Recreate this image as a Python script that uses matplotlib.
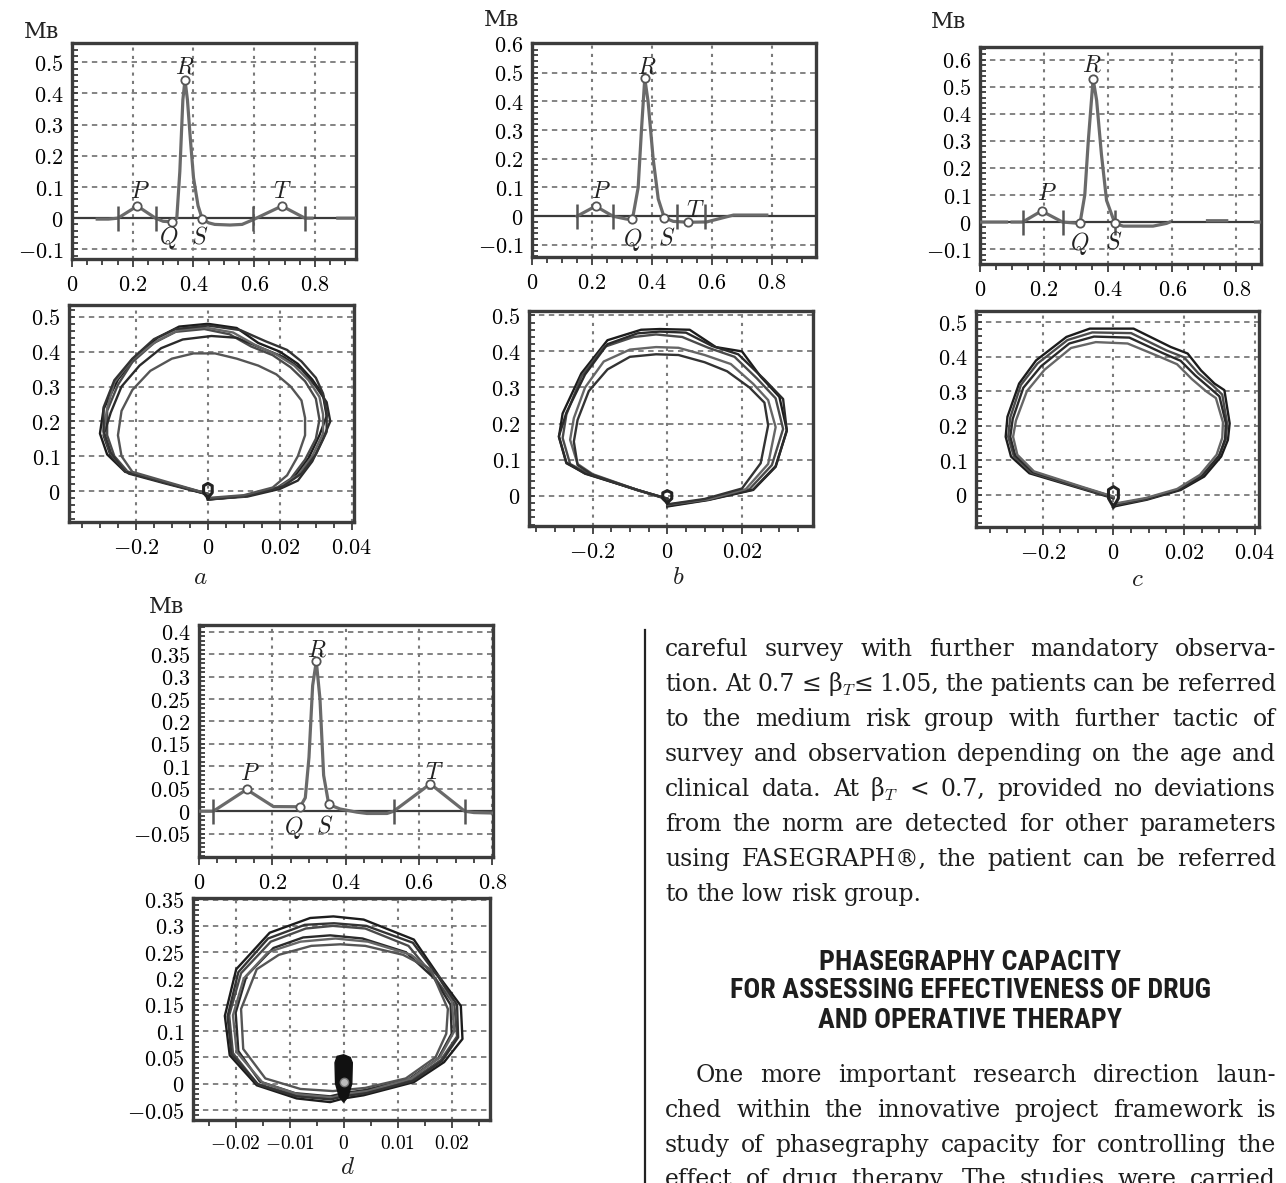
import matplotlib
matplotlib.use("Agg")
import matplotlib.pyplot as plt
from matplotlib import font_manager
from matplotlib.ticker import MultipleLocator
import numpy as np

plt.rcParams["mathtext.fontset"] = "cm"
plt.rcParams["font.family"] = ["DejaVu Serif"]

W, H = 1286, 1183
nan = np.nan

# ---------------- ECG traces (time s, voltage mV) ----------------
ecg_a_t = [0.083, 0.12, 0.151, 0.215, 0.275, 0.30, 0.33, 0.345, 0.355, 0.365, 0.372, 0.38, 0.39, 0.40,
           0.415, 0.429, 0.45, 0.47, 0.52, 0.56, 0.596, 0.691, 0.767, 0.79, nan, 0.875, 0.935]
ecg_a_v = [-0.003, -0.003, 0.0, 0.039, 0.0, -0.01, -0.012, 0.0, 0.15, 0.38, 0.444, 0.38, 0.25, 0.13,
           0.04, -0.003, -0.015, -0.02, -0.022, -0.02, -0.005, 0.039, 0.0, 0.0, nan, 0.0, 0.0]
ecg_a_pts_t = [0.215, 0.33, 0.372, 0.429, 0.691]
ecg_a_pts_v = [0.039, -0.012, 0.444, -0.003, 0.039]
ecg_a_bounds = [0.151, 0.275, 0.596, 0.767]

ecg_b_t = [0.15, 0.212, 0.27, 0.315, 0.335, 0.354, 0.365, 0.376, 0.387, 0.404, 0.421, 0.441, 0.471,
           0.521, 0.582, 0.638, 0.672, 0.783]
ecg_b_v = [0.0, 0.035, 0.0, -0.01, -0.01, 0.1, 0.3, 0.48, 0.4, 0.2, 0.06, -0.005, -0.018,
           -0.021, -0.02, -0.005, 0.004, 0.004]
ecg_b_pts_t = [0.212, 0.335, 0.376, 0.441, 0.521]
ecg_b_pts_v = [0.035, -0.01, 0.48, -0.005, -0.021]
ecg_b_bounds = [0.15, 0.27, 0.483, 0.578]

ecg_c_t = [0.0, 0.083, nan, 0.10, 0.133, 0.192, 0.258, 0.312, 0.327, 0.338, 0.353, 0.364, 0.379, 0.395,
           0.421, 0.447, 0.54, 0.582, 0.592, nan, 0.71, 0.77, nan, 0.86, 0.875]
ecg_c_v = [0.0, 0.0, nan, 0.0, 0.0, 0.041, 0.0, -0.005, 0.1, 0.3, 0.529, 0.45, 0.25, 0.08,
           -0.005, -0.015, -0.015, -0.005, 0.0, nan, 0.005, 0.005, nan, 0.0, 0.0]
ecg_c_pts_t = [0.192, 0.312, 0.353, 0.421]
ecg_c_pts_v = [0.041, -0.005, 0.529, -0.005]
ecg_c_bounds = [0.133, 0.258, 0.42]

ecg_d_t = [0.0, 0.039, 0.130, 0.203, 0.276, 0.290, 0.300, 0.310, 0.320, 0.330, 0.340, 0.354, 0.385,
           0.43, 0.458, 0.513, 0.531, 0.631, 0.725, 0.75, 0.8]
ecg_d_v = [0.0, 0.0, 0.0485, 0.0104, 0.01, 0.03, 0.12, 0.28, 0.334, 0.25, 0.08, 0.015, 0.005,
           -0.002, -0.005, -0.005, 0.0, 0.061, 0.0, -0.003, -0.004]
ecg_d_pts_t = [0.13, 0.276, 0.32, 0.354, 0.631]
ecg_d_pts_v = [0.0485, 0.01, 0.334, 0.015, 0.061]
ecg_d_bounds = [0.039, 0.531, 0.725]

# wave letters and where they sit (data coords)
wave_names_a = ["P", "Q", "R", "S", "T"]
wave_xy_a = [(0.223, 0.087), (0.319, -0.062), (0.372, 0.486), (0.421, -0.062), (0.693, 0.087)]
wave_names_b = ["P", "Q", "R", "S", "T"]
wave_xy_b = [(0.231, 0.087), (0.337, -0.08), (0.382, 0.52), (0.449, -0.075), (0.544, 0.02)]
wave_names_c = ["P", "Q", "R", "S"]
wave_xy_c = [(0.208, 0.104), (0.312, -0.078), (0.348, 0.579), (0.416, -0.075)]
wave_names_d = ["P", "Q", "R", "S", "T"]
wave_xy_d = [(0.139, 0.0836), (0.258, -0.036), (0.322, 0.36), (0.344, -0.032), (0.641, 0.087)]

# ---------------- phase portraits (dU/dt, U) ----------------
loops_a = [
    ([0.000, 0.010, 0.020, 0.024, 0.028, 0.031, 0.033, 0.032, 0.029, 0.025, 0.020, 0.014, 0.008, 0.000,
      -0.008, -0.014, -0.020, -0.025, -0.029, -0.030, -0.028, -0.023, -0.012, 0.000],
     [-0.025, -0.015, 0.010, 0.040, 0.095, 0.160, 0.215, 0.275, 0.320, 0.365, 0.400, 0.425, 0.468, 0.480,
      0.472, 0.440, 0.385, 0.320, 0.235, 0.165, 0.105, 0.055, 0.025, -0.010]),
    ([0.000, 0.010, 0.019, 0.023, 0.027, 0.030, 0.031, 0.030, 0.027, 0.023, 0.018, 0.012, 0.006, -0.001,
      -0.009, -0.015, -0.021, -0.025, -0.028, -0.028, -0.026, -0.022, -0.011, 0.000],
     [-0.022, -0.014, 0.008, 0.035, 0.090, 0.150, 0.205, 0.265, 0.315, 0.355, 0.390, 0.415, 0.450, 0.465,
      0.457, 0.425, 0.370, 0.305, 0.230, 0.160, 0.100, 0.052, 0.022, -0.008]),
    ([0.000, 0.011, 0.020, 0.025, 0.029, 0.032, 0.034, 0.033, 0.030, 0.026, 0.021, 0.015, 0.008, 0.001,
      -0.007, -0.013, -0.019, -0.024, -0.027, -0.029, -0.027, -0.022, -0.012, 0.000],
     [-0.024, -0.016, 0.006, 0.030, 0.085, 0.150, 0.200, 0.255, 0.300, 0.350, 0.385, 0.410, 0.440, 0.445,
      0.435, 0.410, 0.360, 0.300, 0.225, 0.160, 0.100, 0.050, 0.022, -0.010]),
    ([0.000, 0.010, 0.020, 0.025, 0.029, 0.032, 0.032, 0.031, 0.028, 0.024, 0.019, 0.013, 0.007, -0.001,
      -0.008, -0.014, -0.021, -0.026, -0.028, -0.029, -0.027, -0.023, -0.012, 0.000],
     [-0.023, -0.015, 0.012, 0.045, 0.100, 0.165, 0.220, 0.270, 0.318, 0.360, 0.392, 0.420, 0.455, 0.470,
      0.462, 0.432, 0.378, 0.312, 0.238, 0.168, 0.108, 0.058, 0.025, -0.008]),
    ([0.000, 0.011, 0.021, 0.026, 0.030, 0.033, 0.033, 0.032, 0.030, 0.026, 0.022, 0.016, 0.009, 0.000,
      -0.009, -0.015, -0.021, -0.026, -0.029, -0.029, -0.027, -0.023, -0.012, 0.000],
     [-0.024, -0.014, 0.014, 0.050, 0.105, 0.170, 0.225, 0.280, 0.325, 0.372, 0.405, 0.430, 0.462, 0.475,
      0.465, 0.436, 0.380, 0.318, 0.240, 0.172, 0.110, 0.056, 0.024, -0.009]),
    ([0.000, 0.010, 0.018, 0.022, 0.025, 0.027, 0.027, 0.026, 0.023, 0.019, 0.014, 0.008, 0.002, -0.004,
      -0.010, -0.016, -0.021, -0.024, -0.025, -0.024, -0.021, -0.011, 0.000],
     [-0.020, -0.012, 0.010, 0.045, 0.100, 0.160, 0.210, 0.260, 0.300, 0.335, 0.360, 0.380, 0.395, 0.395,
      0.380, 0.345, 0.290, 0.230, 0.160, 0.100, 0.055, 0.025, -0.008]),
]
knot_a = ([0.0, 0.0012, 0.0012, 0.0, -0.0012, -0.0012, 0.0], [-0.02, -0.005, 0.015, 0.022, 0.015, -0.005, -0.02])

loops_b = [
    ([0.000, 0.011, 0.023, 0.029, 0.032, 0.030, 0.025, 0.020, 0.013, 0.006, -0.002, -0.007, -0.016, -0.023,
      -0.028, -0.029, -0.027, -0.022, -0.008, 0.000],
     [-0.030, -0.012, 0.016, 0.080, 0.182, 0.274, 0.330, 0.400, 0.412, 0.460, 0.462, 0.460, 0.431, 0.339,
      0.228, 0.163, 0.090, 0.062, 0.016, -0.010]),
    ([0.000, 0.011, 0.022, 0.028, 0.031, 0.029, 0.024, 0.018, 0.011, 0.004, -0.003, -0.009, -0.017, -0.023,
      -0.027, -0.028, -0.026, -0.021, -0.008, 0.000],
     [-0.026, -0.010, 0.018, 0.085, 0.185, 0.270, 0.325, 0.385, 0.410, 0.440, 0.447, 0.440, 0.412, 0.330,
      0.225, 0.160, 0.088, 0.060, 0.015, -0.008]),
    ([0.000, 0.011, 0.023, 0.029, 0.032, 0.031, 0.026, 0.019, 0.012, 0.005, -0.002, -0.008, -0.016, -0.022,
      -0.027, -0.029, -0.027, -0.022, -0.008, 0.000],
     [-0.028, -0.011, 0.017, 0.082, 0.180, 0.268, 0.322, 0.392, 0.415, 0.452, 0.455, 0.450, 0.420, 0.336,
      0.230, 0.165, 0.092, 0.061, 0.016, -0.009]),
    ([0.000, 0.011, 0.021, 0.027, 0.029, 0.027, 0.023, 0.017, 0.010, 0.003, -0.003, -0.010, -0.017, -0.022,
      -0.025, -0.026, -0.024, -0.020, -0.008, 0.000],
     [-0.025, -0.010, 0.018, 0.088, 0.190, 0.265, 0.310, 0.365, 0.390, 0.410, 0.412, 0.405, 0.372, 0.300,
      0.215, 0.155, 0.088, 0.060, 0.016, -0.008]),
    ([0.000, 0.010, 0.020, 0.025, 0.027, 0.026, 0.022, 0.016, 0.010, 0.003, -0.003, -0.010, -0.016, -0.021,
      -0.024, -0.025, -0.024, -0.020, -0.008, 0.000],
     [-0.024, -0.009, 0.020, 0.090, 0.195, 0.258, 0.300, 0.345, 0.370, 0.390, 0.392, 0.385, 0.350, 0.290,
      0.210, 0.150, 0.085, 0.058, 0.016, -0.008]),
]
knot_b = ([0.0, 0.0012, 0.0012, 0.0, -0.0012, -0.0012, 0.0], [-0.02, -0.008, 0.008, 0.014, 0.008, -0.008, -0.02])

loops_c = [
    ([0.000, 0.0095, 0.019, 0.0257, 0.0305, 0.0324, 0.0329, 0.0314, 0.0286, 0.0248, 0.021, 0.0162, 0.0057,
      -0.0067, -0.0133, -0.0219, -0.0267, -0.0300, -0.0305, -0.0290, -0.0238, -0.0095, 0.000],
     [-0.034, -0.014, 0.014, 0.053, 0.111, 0.159, 0.207, 0.303, 0.322, 0.360, 0.409, 0.428, 0.481,
      0.481, 0.457, 0.389, 0.322, 0.226, 0.168, 0.111, 0.0625, 0.019, -0.010]),
    ([0.000, 0.0095, 0.0185, 0.0250, 0.0298, 0.0318, 0.0322, 0.0308, 0.0280, 0.0240, 0.0200, 0.0150, 0.0050,
      -0.0060, -0.0130, -0.0215, -0.0262, -0.0292, -0.0298, -0.0282, -0.0232, -0.0092, 0.000],
     [-0.030, -0.012, 0.015, 0.055, 0.112, 0.160, 0.205, 0.290, 0.318, 0.352, 0.398, 0.418, 0.468,
      0.470, 0.448, 0.380, 0.318, 0.224, 0.168, 0.112, 0.064, 0.020, -0.008]),
    ([0.000, 0.0098, 0.0190, 0.0252, 0.0300, 0.0316, 0.0318, 0.0300, 0.0272, 0.0232, 0.0190, 0.0140, 0.0045,
      -0.0055, -0.0125, -0.0205, -0.0255, -0.0285, -0.0292, -0.0278, -0.0228, -0.0090, 0.000],
     [-0.028, -0.010, 0.016, 0.056, 0.114, 0.162, 0.208, 0.285, 0.310, 0.345, 0.388, 0.410, 0.455,
      0.458, 0.438, 0.372, 0.310, 0.220, 0.168, 0.114, 0.066, 0.022, -0.006]),
    ([0.000, 0.0092, 0.0180, 0.0245, 0.0292, 0.0308, 0.0310, 0.0290, 0.0262, 0.0222, 0.0180, 0.0130, 0.0040,
      -0.0050, -0.0120, -0.0195, -0.0245, -0.0276, -0.0284, -0.0272, -0.0225, -0.0088, 0.000],
     [-0.026, -0.009, 0.017, 0.058, 0.116, 0.165, 0.210, 0.280, 0.300, 0.335, 0.378, 0.400, 0.438,
      0.442, 0.425, 0.362, 0.300, 0.215, 0.168, 0.116, 0.068, 0.023, -0.005]),
]
knot_c = ([0.0, 0.0014, 0.0014, 0.0, -0.0014, -0.0014, 0.0], [-0.035, -0.01, 0.015, 0.024, 0.015, -0.01, -0.035])

loops_d = [
    ([0.000, 0.0037, 0.0130, 0.0186, 0.0220, 0.0217, 0.0180, 0.0130, 0.0037, -0.0019, -0.0062, -0.0137,
      -0.0199, -0.0220, -0.0211, -0.0161, -0.0087, -0.0025, 0.000],
     [-0.028, -0.022, 0.003, 0.041, 0.085, 0.148, 0.199, 0.274, 0.312, 0.318, 0.315, 0.287,
      0.2175, 0.129, 0.054, -0.003, -0.028, -0.035, -0.028]),
    ([0.000, 0.0040, 0.0125, 0.0180, 0.0210, 0.0205, 0.0170, 0.0120, 0.0040, -0.0020, -0.0070, -0.0135,
      -0.0190, -0.0212, -0.0205, -0.0160, -0.0090, -0.0025, 0.000],
     [-0.022, -0.016, 0.006, 0.045, 0.090, 0.150, 0.200, 0.262, 0.295, 0.300, 0.295, 0.270,
      0.210, 0.130, 0.058, 0.000, -0.022, -0.028, -0.022]),
    ([0.000, 0.0040, 0.0120, 0.0175, 0.0200, 0.0198, 0.0168, 0.0115, 0.0035, -0.0025, -0.0075, -0.0130,
      -0.0180, -0.0200, -0.0195, -0.0155, -0.0090, -0.0025, 0.000],
     [-0.018, -0.012, 0.008, 0.048, 0.095, 0.150, 0.200, 0.250, 0.276, 0.282, 0.278, 0.258,
      0.205, 0.135, 0.062, 0.004, -0.018, -0.024, -0.018]),
    ([0.000, 0.0045, 0.0125, 0.0178, 0.0205, 0.0200, 0.0175, 0.0125, 0.0045, -0.0015, -0.0080, -0.0140,
      -0.0185, -0.0205, -0.0198, -0.0150, -0.0085, -0.0020, 0.000],
     [-0.020, -0.014, 0.010, 0.050, 0.100, 0.160, 0.205, 0.245, 0.270, 0.276, 0.270, 0.250,
      0.200, 0.130, 0.060, 0.002, -0.020, -0.026, -0.020]),
    ([0.000, 0.0042, 0.0128, 0.0182, 0.0212, 0.0210, 0.0176, 0.0128, 0.0042, -0.0018, -0.0072, -0.0140,
      -0.0195, -0.0215, -0.0208, -0.0158, -0.0088, -0.0024, 0.000],
     [-0.024, -0.018, 0.005, 0.043, 0.088, 0.150, 0.202, 0.268, 0.300, 0.305, 0.302, 0.276,
      0.212, 0.128, 0.056, -0.002, -0.024, -0.030, -0.024]),
    ([0.000, 0.0040, 0.0115, 0.0170, 0.0190, 0.0193, 0.0161, 0.0110, 0.0040, -0.0006, -0.0060, -0.0120,
      -0.0161, -0.0190, -0.0186, -0.0145, -0.0080, -0.0020, 0.000],
     [-0.012, -0.008, 0.010, 0.050, 0.095, 0.142, 0.2175, 0.245, 0.262, 0.265, 0.262, 0.245,
      0.2175, 0.142, 0.066, 0.010, -0.010, -0.014, -0.012]),
]
knot_d = ([-0.0015, -0.0016, -0.0012, 0.0, 0.0012, 0.0016, 0.0015, 0.0008, 0.0, -0.0008, -0.0015],
          [0.0, 0.040, 0.052, 0.055, 0.050, 0.040, 0.0, -0.025, -0.035, -0.025, 0.0])

# tick values and labels
ecg_xticks = [0, 0.2, 0.4, 0.6, 0.8]
ecg_ab_yticks = [-0.1, 0, 0.1, 0.2, 0.3, 0.4, 0.5]
ecg_bc_yticks = [-0.1, 0, 0.1, 0.2, 0.3, 0.4, 0.5, 0.6]
ecg_d_yticks = [-0.05, 0, 0.05, 0.1, 0.15, 0.2, 0.25, 0.3, 0.35, 0.4]
ph_yticks = [0, 0.1, 0.2, 0.3, 0.4, 0.5]
ph_ac_xticks = [-0.02, 0, 0.02, 0.04]
ph_ac_xlabels = ["-0.2", "0", "0.02", "0.04"]
ph_b_xticks = [-0.02, 0, 0.02]
ph_b_xlabels = ["-0.2", "0", "0.02"]
ph_d_xticks = [-0.02, -0.01, 0, 0.01, 0.02]
ph_d_xlabels = ["-0.02", "-0.01", "0", "0.01", "0.02"]
ph_d_yticks = [-0.05, 0, 0.05, 0.1, 0.15, 0.2, 0.25, 0.3, 0.35]

unit_label = "Мв"
panel_letters = ["a", "b", "c", "d"]

body_lines_1 = [
    "careful survey with further mandatory observa-",
    "tion. At 0.7 ≤ β$_T$≤ 1.05, the patients can be referred",
    "to the medium risk group with further tactic of",
    "survey and observation depending on the age and",
    "clinical data. At β$_T$ < 0.7, provided no deviations",
    "from the norm are detected for other parameters",
    "using FASEGRAPH®, the patient can be referred",
    "to the low risk group.",
]
heading_lines = [
    "PHASEGRAPHY CAPACITY",
    "FOR ASSESSING EFFECTIVENESS OF DRUG",
    "AND OPERATIVE THERAPY",
]
body_lines_2 = [
    "One more important research direction laun-",
    "ched within the innovative project framework is",
    "study of phasegraphy capacity for controlling the",
    "effect of drug therapy. The studies were carried",
]

# ---------------- drawing ----------------
fig = plt.figure(figsize=(W / 100, H / 100), dpi=100)
renderer = fig.canvas.get_renderer()

EDGE = "#3c3c3c"
GRID = "#7a7a7a"
TRACE = "#6a6a6a"


def px_axes(l, t, r, b):
    return fig.add_axes([l / W, 1 - b / H, (r - l) / W, (b - t) / H])


def fmt(v):
    return "$%s$" % ("%g" % v)


def style(ax, xlim, ylim, xt, xl, yt, yl, xminor, yminor, xsize=16):
    ax.set_xlim(xlim)
    ax.set_ylim(ylim)
    ax.set_xticks(xt)
    ax.set_xticklabels(xl, fontsize=xsize)
    ax.set_yticks(yt)
    ax.set_yticklabels(yl, fontsize=16)
    ax.xaxis.set_minor_locator(MultipleLocator(xminor))
    ax.yaxis.set_minor_locator(MultipleLocator(yminor))
    ax.tick_params(axis="x", which="both", direction="out", length=4, width=1.3, color=EDGE, pad=5)
    ax.tick_params(axis="x", which="major", length=6)
    ax.tick_params(axis="y", which="both", direction="in", length=4, width=1.3, color=EDGE, pad=6)
    for s in ax.spines.values():
        s.set_color(EDGE)
        s.set_linewidth(2.4)
    ax.grid(True, axis="y", which="major", ls=(0, (3, 2.5)), color=GRID, lw=1.3)
    ax.grid(True, axis="x", which="major", ls=(0, (1.5, 2.5)), color=GRID, lw=1.5)
    ax.set_axisbelow(True)


def ecg_panel(box, t, v, pts_t, pts_v, bounds, names, name_xy, xlim, ylim, yt, yminor, unit_xy):
    ax = px_axes(*box)
    style(ax, xlim, ylim, ecg_xticks, [fmt(x) for x in ecg_xticks], yt, [fmt(y) for y in yt], 0.05, yminor)
    ax.axhline(0, color="#3a3a3a", lw=1.6, zorder=2)
    ax.plot(t, v, color=TRACE, lw=2.3, zorder=3)
    ax.plot(bounds, [0] * len(bounds), ls="", marker="|", ms=18, mew=1.8, color="#555555", zorder=3)
    ax.plot(pts_t, pts_v, ls="", marker="o", ms=6, mfc="white", mec="#555555", mew=1.3, zorder=4)
    for n, (x, y) in zip(names, name_xy):
        ax.text(x, y, "$%s$" % n, fontsize=17, ha="center", va="center", color="#222222", zorder=5)
    fig.text(unit_xy[0] / W, 1 - unit_xy[1] / H, unit_label, fontsize=16, ha="center", va="center",
             family="DejaVu Serif", color="#222222")
    return ax


def phase_panel(box, loops, knot, xlim, ylim, xt, xl, yt, yminor, letter, letter_xy, blob=False, xsize=16):
    ax = px_axes(*box)
    style(ax, xlim, ylim, xt, ["$%s$" % s for s in xl], yt, [fmt(y) for y in yt], 0.005, yminor, xsize)
    shades = ["#1c1c1c", "#4a4a4a", "#2a2a2a", "#666666", "#333333", "#555555"]
    for i, (lx, ly) in enumerate(loops):
        ax.plot(lx, ly, color=shades[i % len(shades)], lw=1.7, zorder=3)
    if blob:
        ax.fill(knot[0], knot[1], color="#111111", zorder=4)
        ax.plot([0], [0.004], ls="", marker="o", ms=6, mfc="#bdbdbd", mec="#777777", zorder=5)
    else:
        ax.plot(knot[0], knot[1], color="#222222", lw=2.2, zorder=4)
    fig.text(letter_xy[0] / W, 1 - letter_xy[1] / H, "$%s$" % letter, fontsize=18, ha="center",
             va="center", color="#222222")
    return ax


ecg_panel((72, 43, 356, 259), ecg_a_t, ecg_a_v, ecg_a_pts_t, ecg_a_pts_v, ecg_a_bounds,
          wave_names_a, wave_xy_a, (0, 0.935), (-0.131, 0.562), ecg_ab_yticks, 0.02, (41, 32))
ecg_panel((532, 43, 816, 257), ecg_b_t, ecg_b_v, ecg_b_pts_t, ecg_b_pts_v, ecg_b_bounds,
          wave_names_b, wave_xy_b, (0, 0.947), (-0.142, 0.603), ecg_bc_yticks, 0.02, (502, 20))
ecg_panel((980, 47, 1261, 264), ecg_c_t, ecg_c_v, ecg_c_pts_t, ecg_c_pts_v, ecg_c_bounds,
          wave_names_c, wave_xy_c, (0, 0.877), (-0.155, 0.647), ecg_bc_yticks, 0.02, (948, 22))
ecg_panel((199, 625, 493, 857), ecg_d_t, ecg_d_v, ecg_d_pts_t, ecg_d_pts_v, ecg_d_bounds,
          wave_names_d, wave_xy_d, (0, 0.802), (-0.102, 0.415), ecg_d_yticks, 0.01, (166, 607))

phase_panel((69, 305, 354, 522), loops_a, knot_a, (-0.0386, 0.0406), (-0.089, 0.534),
            ph_ac_xticks, ph_ac_xlabels, ph_yticks, 0.02, panel_letters[0], (200, 578))
phase_panel((529, 311, 813, 526), loops_b, knot_b, (-0.037, 0.039), (-0.084, 0.512),
            ph_b_xticks, ph_b_xlabels, ph_yticks, 0.02, panel_letters[1], (678, 578))
phase_panel((976, 311, 1259, 527), loops_c, knot_c, (-0.0389, 0.0412), (-0.093, 0.532),
            ph_ac_xticks, ph_ac_xlabels, ph_yticks, 0.02, panel_letters[2], (1137, 580))
phase_panel((193, 898, 490, 1120), loops_d, knot_d, (-0.0279, 0.0271), (-0.069, 0.353),
            ph_d_xticks, ph_d_xlabels, ph_d_yticks, 0.01, panel_letters[3], (347, 1168), blob=True, xsize=14)

# ---------------- text column ----------------
fig.add_artist(plt.Line2D([645 / W, 645 / W], [0, 1 - 630 / H], color="#222222", lw=1.6))

names = {f.name for f in font_manager.fontManager.ttflist}
body_font = "DejaVu Serif"
head_font = "DejaVu Sans"
for cand in ["Liberation Sans Narrow", "Roboto Condensed", "Open Sans Condensed", "Roboto"]:
    if cand in names:
        head_font = cand
        break

TX0, TX1 = 665, 1276


def text_width(s, size):
    t = fig.text(0, 0, s, fontsize=size, family=body_font)
    w = t.get_window_extent(renderer).width
    t.remove()
    return w


# body size chosen so that an ordinary line fills the column with normal spacing
BODY_SIZE = 14 * 600 / text_width(body_lines_1[3], 14)


def put_line(text, y, x0, x1, justify=True):
    words = text.split(" ")
    size = BODY_SIZE
    widths = [text_width(w, size) for w in words]
    space = text_width("a a", size) - text_width("aa", size)
    need = sum(widths) + (len(words) - 1) * 0.7 * space
    if justify and need > x1 - x0:
        size = size * (x1 - x0) / need
        widths = [text_width(w, size) for w in words]
        space = text_width("a a", size) - text_width("aa", size)
    if justify and len(words) > 1:
        gap = (x1 - x0 - sum(widths)) / (len(words) - 1)
    else:
        gap = space
    x = x0
    for w, ww in zip(words, widths):
        fig.text(x / W, 1 - y / H, w, fontsize=size, family=body_font, color="#1e1e1e",
                 ha="left", va="baseline")
        x += ww + gap


body_base_1 = [656, 691, 726, 761, 796, 831, 866, 901]
for i, (line, yb) in enumerate(zip(body_lines_1, body_base_1)):
    put_line(line, yb, TX0, TX1, justify=(i < len(body_lines_1) - 1))

# heading, scaled so its widest line matches the column layout
probe = fig.text(0, 0, heading_lines[1], fontsize=13, family=head_font, weight="bold")
pw = probe.get_window_extent(renderer).width
probe.remove()
head_size = 13 * 478 / pw
for line, yc in zip(heading_lines, [962, 991, 1020]):
    fig.text(970 / W, 1 - yc / H, line, fontsize=head_size, family=head_font, weight="bold",
             ha="center", va="center", color="#1e1e1e")

body_base_2 = [1082, 1117, 1152, 1186]
for i, (line, yb) in enumerate(zip(body_lines_2, body_base_2)):
    x0 = TX0 + 31 if i == 0 else TX0
    put_line(line, yb, x0, TX1, justify=True)

fig.savefig("out.png", dpi=100)
